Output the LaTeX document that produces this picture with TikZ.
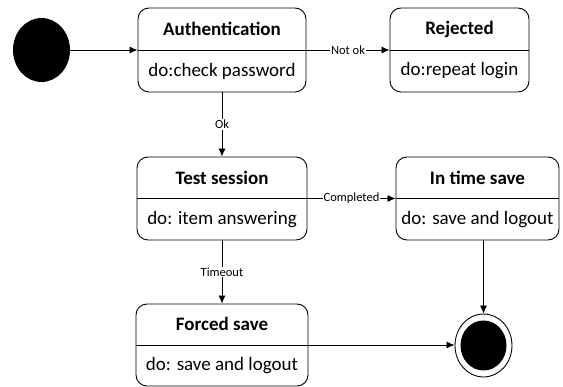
\documentclass[tikz,border=0pt]{standalone}
\usepackage{fontspec}
\setmainfont{Carlito}
\usetikzlibrary{arrows.meta,shapes.geometric}

\tikzset{
  state/.style={draw, rounded corners=11pt, line width=0.9pt},
  title/.style={font=\fontsize{19}{22}\selectfont\bfseries},
  body/.style={font=\fontsize{19}{22}\selectfont},
  guard/.style={fill=white, inner sep=1pt, font=\fontsize{12.5}{14}\selectfont},
  trans/.style={line width=0.8pt, -{Latex[length=8pt,width=7pt]}},
  blob/.style={ellipse, fill=black, inner sep=0pt},
}

\begin{document}
\begin{tikzpicture}[x=1pt,y=-1pt]
    \useasboundingbox (0,0) rectangle (563,387);

    % initial and final states
    \node[blob, minimum width=57pt, minimum height=64pt] (start) at (41.5,50) {};
    \node[ellipse, draw, line width=0.9pt, fill=white, minimum width=57pt, minimum height=63pt, inner sep=0pt] (final) at (483.5,345.5) {};
    \node[blob, minimum width=46pt, minimum height=50pt] (finalIn) at (final) {};

    % states
    \node[state, minimum width=168pt, minimum height=84pt] (auth) at (222,50) {};
    \node[state, minimum width=139pt, minimum height=84pt] (rej) at (459.5,50) {};
    \node[state, minimum width=170pt, minimum height=83pt] (test) at (222,198.5) {};
    \node[state, minimum width=163pt, minimum height=83pt] (intime) at (477.5,198.5) {};
    \node[state, minimum width=172pt, minimum height=82pt] (forced) at (222,345) {};

    \foreach \s in {auth,rej,test,intime,forced}
        \draw[line width=0.9pt] (\s.west) -- (\s.east);

    \node[title] (authT) at ([yshift=21pt]auth.center) {Authentication};
    \node[body] (authB) at ([yshift=-21pt]auth.center) {do:check password};
    \node[title] (rejT) at ([yshift=21pt]rej.center) {Rejected};
    \node[body] (rejB) at ([yshift=-21pt]rej.center) {do:repeat login};
    \node[title] (testT) at ([yshift=21pt]test.center) {Test session};
    \node[body] (testB) at ([yshift=-21pt]test.center) {do: item answering};
    \node[title] (intimeT) at ([yshift=21pt]intime.center) {In time save};
    \node[body] (intimeB) at ([yshift=-21pt]intime.center) {do: save and logout};
    \node[title] (forcedT) at ([yshift=21pt]forced.center) {Forced save};
    \node[body] (forcedB) at ([yshift=-21pt]forced.center) {do: save and logout};

    % transitions
    \draw[trans] (start) -- (auth.west);
    \draw[trans] (auth.east) -- node[guard] {Not ok} (rej.west);
    \draw[trans] (auth.south) -- node[guard] {Ok} (test.north);
    \draw[trans] (test.east) -- node[guard] {Completed} (intime.west);
    \draw[trans] (test.south) -- node[guard] {Timeout} (forced.north);
    \draw[trans] (intime.south -| final) -- (final.north);
    \draw[trans] (forced.east) -- (forced.east -| final.west);
\end{tikzpicture}
\end{document}
